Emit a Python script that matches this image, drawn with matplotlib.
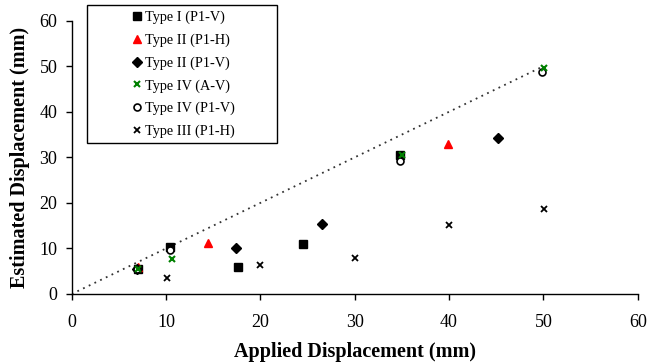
import matplotlib
matplotlib.use("Agg")
import matplotlib.pyplot as plt
from matplotlib.patches import Rectangle

plt.rcParams['font.family'] = ['Liberation Serif', 'DejaVu Serif']

# Data (applied, estimated) in mm
t1_x = [7.0, 10.4, 17.6, 24.5, 34.8]
t1_y = [5.5, 10.4, 6.0, 10.9, 30.5]
t2h_x = [7.0, 14.4, 39.9]
t2h_y = [5.9, 11.3, 32.9]
t2v_x = [6.9, 17.4, 26.5, 45.2]
t2v_y = [5.4, 10.2, 15.4, 34.2]
t4a_x = [7.0, 10.6, 35.0, 50.1]
t4a_y = [5.4, 7.6, 30.5, 49.7]
t4p_x = [6.9, 10.4, 34.8, 49.9]
t4p_y = [5.4, 9.7, 29.2, 48.7]
t3_x = [10.1, 20.0, 30.0, 40.0, 50.1]
t3_y = [3.6, 6.3, 7.8, 15.1, 18.7]
line_x = [0, 50]
line_y = [0, 50]

xticks = [0, 10, 20, 30, 40, 50, 60]
yticks = [0, 10, 20, 30, 40, 50, 60]

W, H = 647, 363
fig = plt.figure(figsize=(W / 100, H / 100), dpi=100)
ax = fig.add_axes([71.7 / W, 1 - 294 / H, (637.7 - 71.7) / W, (294 - 20.7) / H])

ax.plot(line_x, line_y, linestyle=(0, (1, 2.5)), color='#333333', lw=1.3, zorder=1)

h1, = ax.plot(t1_x, t1_y, 's', color='black', ms=5.3, ls='none', label='Type I (P1-V)', zorder=3)
h2, = ax.plot(t2h_x, t2h_y, '^', color='red', ms=6, ls='none', label='Type II (P1-H)', zorder=3)
h3, = ax.plot(t2v_x, t2v_y, 'D', color='black', ms=5.2, ls='none', label='Type II (P1-V)', zorder=3)
h4, = ax.plot(t4a_x, t4a_y, 'x', color='green', ms=4.3, mew=1.5, ls='none', label='Type IV (A-V)', zorder=4)
h5, = ax.plot(t4p_x, t4p_y, 'o', mfc='white', mec='black', mew=1.2, ms=5, ls='none', label='Type IV (P1-V)', zorder=3)
h6, = ax.plot(t3_x, t3_y, 'x', color='black', ms=4.3, mew=1.3, ls='none', label='Type III (P1-H)', zorder=3)

ax.set_xlim(0, 60)
ax.set_ylim(0, 60)
ax.set_xticks(xticks)
ax.set_yticks(yticks)
ax.spines['top'].set_visible(False)
ax.spines['right'].set_visible(False)
for s in ['left', 'bottom']:
    ax.spines[s].set_linewidth(1.0)
ax.tick_params(axis='both', direction='out', length=4.3, width=1.0, labelsize=13)
ax.tick_params(axis='x', pad=10)
ax.tick_params(axis='y', pad=6)
ax.set_xlabel('Applied Displacement (mm)', fontsize=14.5, fontweight='bold', labelpad=8)
ax.set_ylabel('Estimated Displacement (mm)', fontsize=14.5, fontweight='bold', labelpad=7)

# legend frame drawn in figure pixels
fig.patches.append(Rectangle((86.7 / W, 1 - 142.7 / H), (276.7 - 86.7) / W, (142.7 - 5) / H,
                             transform=fig.transFigure, fill=True, facecolor='white',
                             edgecolor='black', lw=1.0, zorder=5))
leg = fig.legend(handles=[h1, h2, h3, h4, h5, h6], loc='upper left',
                 bbox_to_anchor=(124 / W, 1 - 5 / H), fontsize=10.3, frameon=False,
                 labelspacing=0.65, handlelength=1.0, handletextpad=0.1,
                 borderpad=0.4, borderaxespad=0)
leg.set_zorder(6)

fig.savefig('out.png', dpi=100)
